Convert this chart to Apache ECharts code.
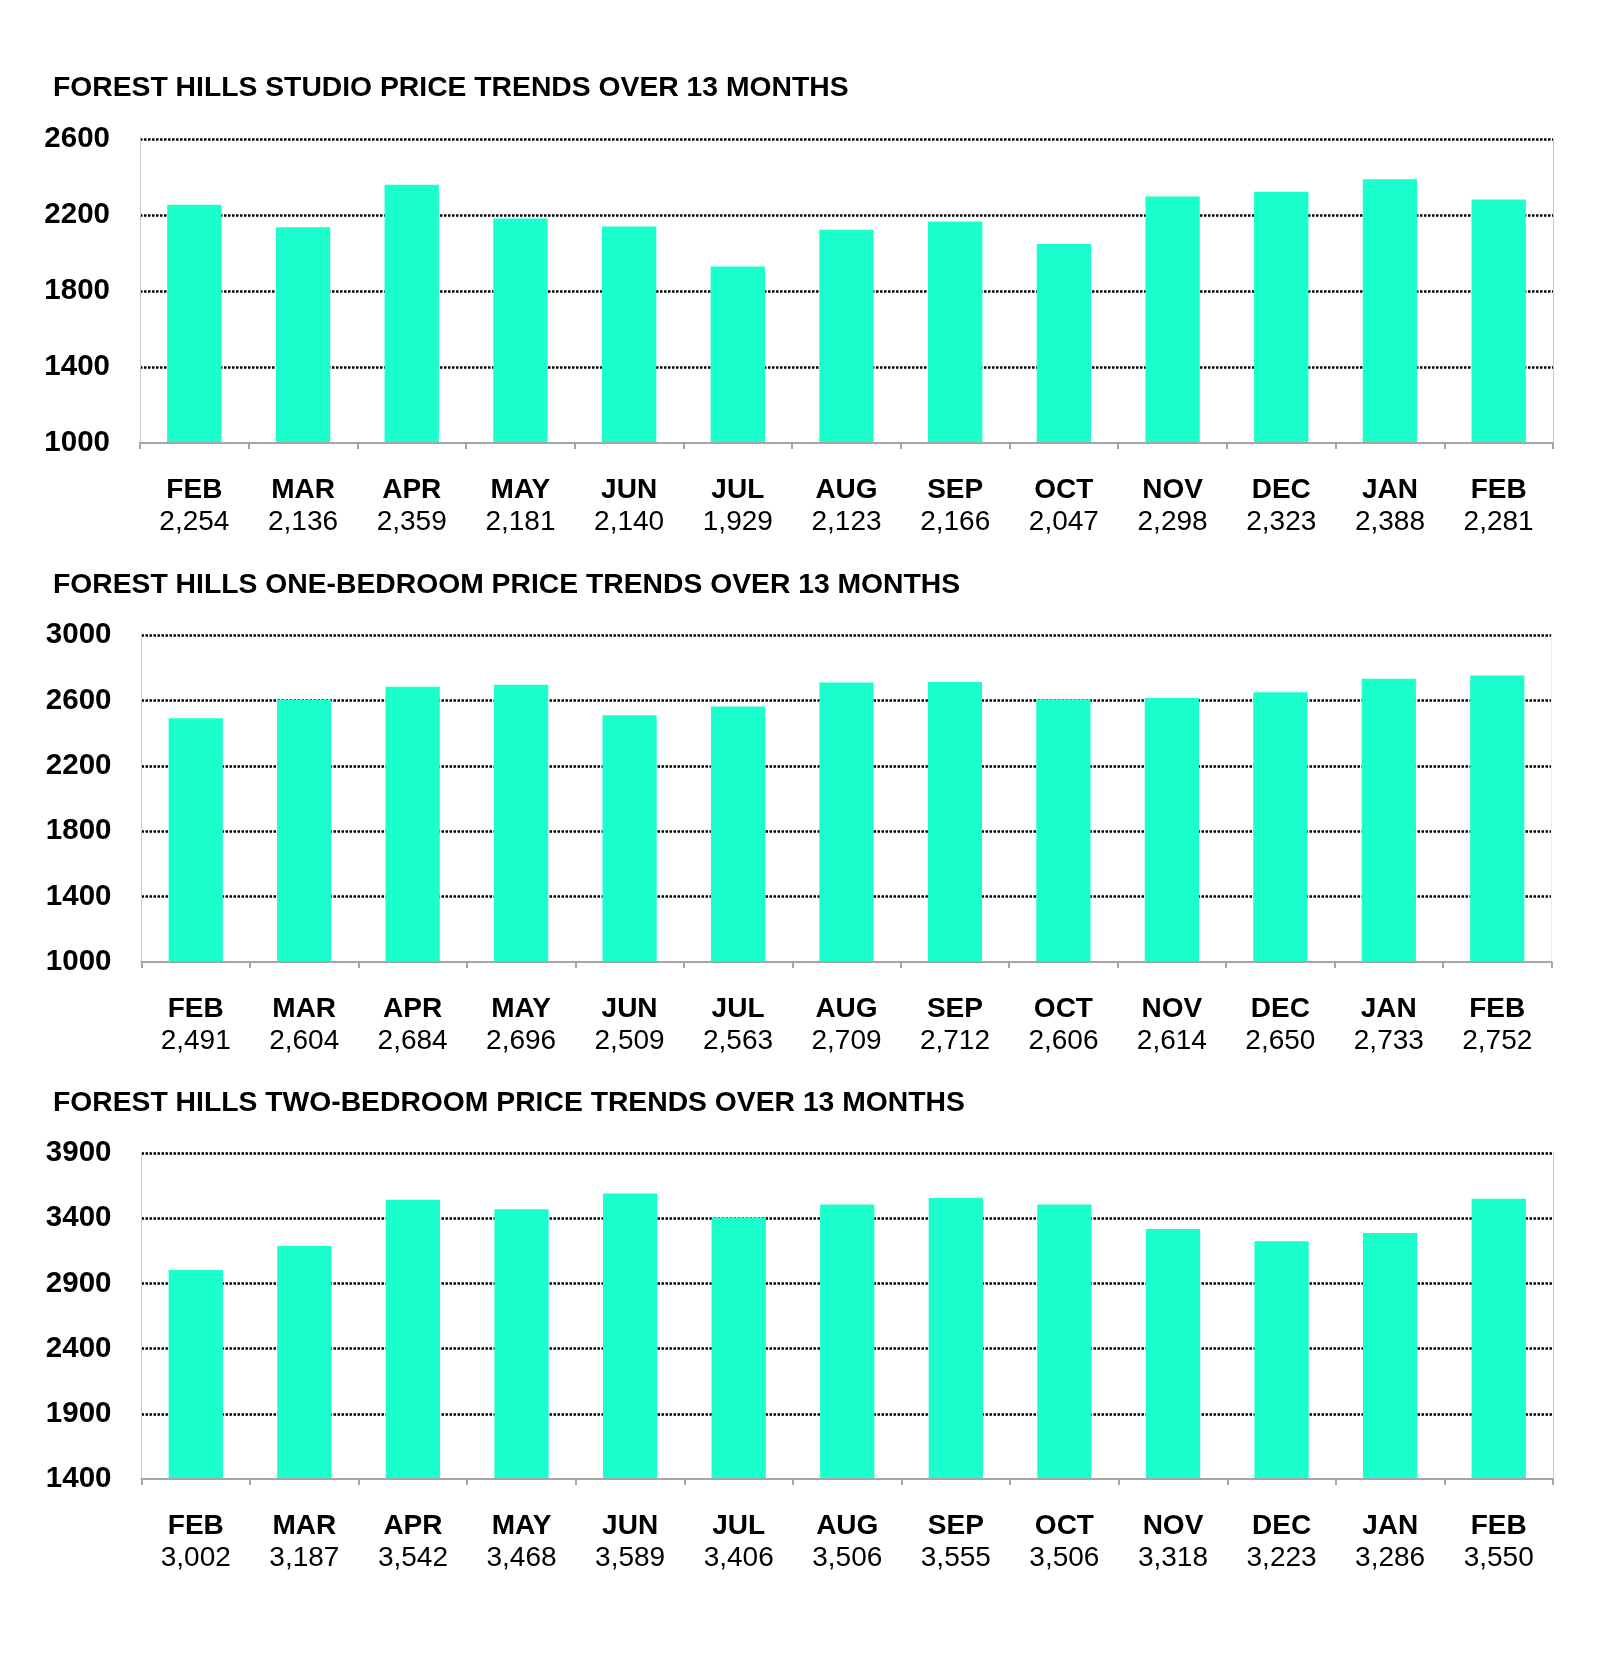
<!DOCTYPE html>
<html>
<head>
<meta charset="utf-8">
<script src="https://cdn.jsdelivr.net/npm/echarts@6/dist/echarts.min.js"></script>
<style>
html,body{margin:0;padding:0;background:#fff;}
#chart{width:1600px;height:1659px;}
</style>
</head>
<body>
<div id="chart"></div>
<script>
// ---- data ----
var months = ['FEB','MAR','APR','MAY','JUN','JUL','AUG','SEP','OCT','NOV','DEC','JAN','FEB'];
var studioValues = [2254, 2136, 2359, 2181, 2140, 1929, 2123, 2166, 2047, 2298, 2323, 2388, 2281];
var oneBedValues = [2491, 2604, 2684, 2696, 2509, 2563, 2709, 2712, 2606, 2614, 2650, 2733, 2752];
var twoBedValues = [3002, 3187, 3542, 3468, 3589, 3406, 3506, 3555, 3506, 3318, 3223, 3286, 3550];
var titles = [
  'FOREST HILLS STUDIO PRICE TRENDS OVER 13 MONTHS',
  'FOREST HILLS ONE-BEDROOM PRICE TRENDS OVER 13 MONTHS',
  'FOREST HILLS TWO-BEDROOM PRICE TRENDS OVER 13 MONTHS'
];
var studioAxis = {min: 1000, max: 2600, interval: 400};
var oneBedAxis = {min: 1000, max: 3000, interval: 400};
var twoBedAxis = {min: 1400, max: 3900, interval: 500};

// ---- layout / style ----
var FONT = "'Liberation Sans', Arial, sans-serif";
var BAR = '#1bffcc';
var panels = [
  {values: studioValues, axis: studioAxis, title: titles[0], titleTop: 72, grid: {left: 140, right: 47, top: 139, height: 304}},
  {values: oneBedValues, axis: oneBedAxis, title: titles[1], titleTop: 569, grid: {left: 141.5, right: 48.5, top: 635, height: 327}},
  {values: twoBedValues, axis: twoBedAxis, title: titles[2], titleTop: 1087, grid: {left: 141.5, right: 47, top: 1153, height: 326}}
];

function fmt(v){ return v.toLocaleString('en-US'); }

var option = {
  animation: false,
  backgroundColor: '#fff',
  title: [], grid: [], xAxis: [], yAxis: [], series: []
};

panels.forEach(function(p, i){
  option.title.push({
    text: p.title, left: 53, top: p.titleTop, padding: 0,
    textStyle: {fontFamily: FONT, fontWeight: 'bold', fontSize: 28.3, lineHeight: 32, color: '#000'}
  });
  option.grid.push({left: p.grid.left, right: p.grid.right, top: p.grid.top, height: p.grid.height, containLabel: false});
  var vals = p.values;
  option.xAxis.push({
    type: 'category', gridIndex: i, data: months, z: 5,
    axisLine: {show: true, lineStyle: {color: '#a6a6a6', width: 2}},
    axisTick: {show: true, length: 6, lineStyle: {color: '#a6a6a6', width: 2}},
    axisLabel: {
      margin: 31, interval: 0,
      formatter: function(value, idx){ return '{m|' + value + '}\n{v|' + fmt(vals[idx]) + '}'; },
      rich: {
        m: {fontFamily: FONT, fontWeight: 'bold', fontSize: 28, lineHeight: 32, color: '#000'},
        v: {fontFamily: FONT, fontWeight: 'normal', fontSize: 28, lineHeight: 32, color: '#000'}
      }
    },
    splitLine: {show: false}
  });
  option.yAxis.push({
    type: 'value', gridIndex: i, position: 'left',
    min: p.axis.min, max: p.axis.max, interval: p.axis.interval,
    axisLine: {show: true, lineStyle: {color: '#c8c8c8', width: 1}},
    axisTick: {show: false},
    axisLabel: {margin: 30, fontFamily: FONT, fontWeight: 'bold', fontSize: 29.5, color: '#000', formatter: function(v){ return String(v); }},
    splitLine: {show: true, showMinLine: false, lineStyle: {color: '#000', width: 2.5, type: [2.5, 1.5]}}
  });
  option.yAxis.push({
    type: 'value', gridIndex: i, position: 'right',
    min: p.axis.min, max: p.axis.max, interval: p.axis.interval,
    axisLine: {show: true, lineStyle: {color: i === 1 ? '#ececec' : '#c8c8c8', width: 1}},
    axisTick: {show: false}, axisLabel: {show: false}, splitLine: {show: false}
  });
  option.series.push({
    type: 'bar', xAxisIndex: i, yAxisIndex: i * 2,
    data: vals, barWidth: '50%',
    itemStyle: {color: BAR}
  });
});

var chart = echarts.init(document.getElementById('chart'), null, {renderer: 'canvas'});
chart.setOption(option);
</script>
</body>
</html>
